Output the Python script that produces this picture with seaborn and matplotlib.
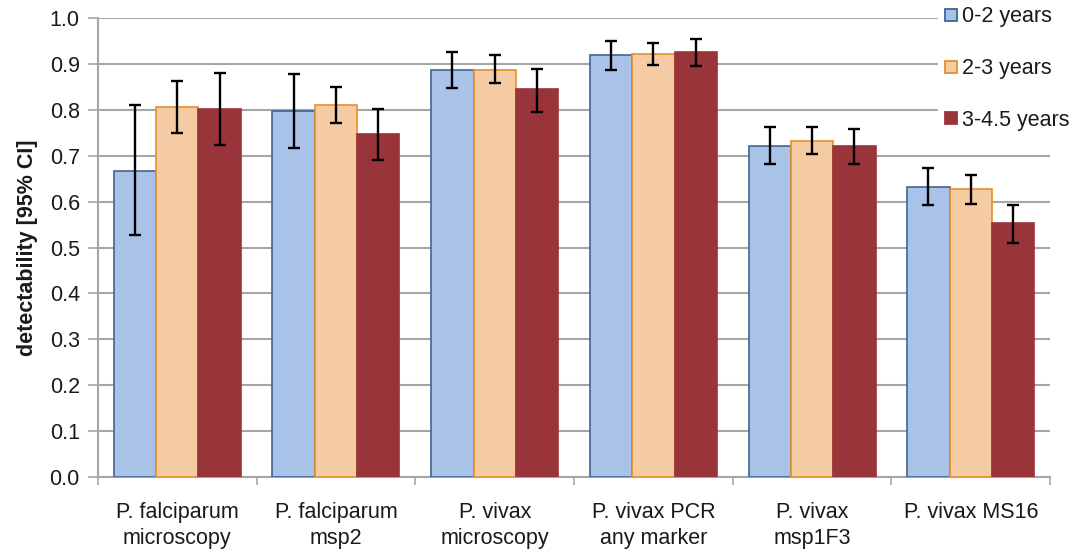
import matplotlib
matplotlib.use("Agg")
import matplotlib.pyplot as plt
import seaborn as sns
import pandas as pd
import numpy as np
from matplotlib.lines import Line2D

categories = ["P. falciparum\nmicroscopy", "P. falciparum\nmsp2", "P. vivax\nmicroscopy",
              "P. vivax PCR\nany marker", "P. vivax\nmsp1F3", "P. vivax MS16"]
groups = ["0-2 years", "2-3 years", "3-4.5 years"]

val_0_2 = [0.667, 0.797, 0.888, 0.919, 0.722, 0.633]
lo_0_2 = [0.527, 0.716, 0.847, 0.887, 0.682, 0.592]
hi_0_2 = [0.810, 0.878, 0.927, 0.950, 0.762, 0.674]

val_2_3 = [0.807, 0.810, 0.888, 0.923, 0.733, 0.627]
lo_2_3 = [0.750, 0.771, 0.858, 0.899, 0.705, 0.595]
hi_2_3 = [0.864, 0.849, 0.919, 0.946, 0.762, 0.658]

val_3_45 = [0.802, 0.747, 0.845, 0.926, 0.721, 0.553]
lo_3_45 = [0.723, 0.690, 0.796, 0.895, 0.683, 0.510]
hi_3_45 = [0.880, 0.802, 0.890, 0.954, 0.758, 0.593]

fills = ["#A9C3E8", "#F4CBA2", "#98343A"]
edges = ["#3F6496", "#E3912B", "#98343A"]

vals = [val_0_2, val_2_3, val_3_45]
los = [lo_0_2, lo_2_3, lo_3_45]
his = [hi_0_2, hi_2_3, hi_3_45]

rows = []
for g, v in zip(groups, vals):
    for c, x in zip(categories, v):
        rows.append({"cat": c, "grp": g, "val": x})
df = pd.DataFrame(rows)

sns.set_style("white")
plt.rcParams["font.family"] = ["Liberation Sans", "DejaVu Sans"]
FS = 15.5
TXT = "#1A1A1A"
GRID = "#A6A6A6"

fig = plt.figure(figsize=(10.76, 5.52), dpi=100)
ax = fig.add_axes([0.091, 0.136, 0.885, 0.831])

sns.barplot(data=df, x="cat", y="val", hue="grp", order=categories, hue_order=groups,
            palette=fills, saturation=1, width=0.8, ax=ax, legend=False, errorbar=None, zorder=3)

for gi in range(3):
    cont = ax.containers[gi]
    for ci, bar in enumerate(cont):
        bar.set_edgecolor(edges[gi])
        bar.set_linewidth(1.2)
        xc = bar.get_x() + bar.get_width() / 2
        v = vals[gi][ci]
        ax.errorbar(xc, v, yerr=[[v - los[gi][ci]], [his[gi][ci] - v]], fmt="none",
                    ecolor="black", elinewidth=1.7, capsize=4, capthick=1.7, zorder=4)

ax.set_ylim(0, 1.0)
ax.set_xlim(-0.5, 5.5)
ticks = np.arange(0, 1.01, 0.1)
ax.set_yticks(ticks)
ax.set_yticklabels([f"{t:.1f}" for t in ticks], fontsize=FS, color=TXT)
ax.yaxis.grid(True, color=GRID, linewidth=1.5, zorder=0)
ax.set_axisbelow(True)
ax.tick_params(axis="y", length=7, width=1.2, color=GRID, direction="out", left=True, pad=6)
ax.set_xticks(range(6))
ax.set_xticklabels(categories, fontsize=FS, color=TXT, linespacing=1.3)
ax.tick_params(axis="x", length=0, pad=18)
ax.set_xticks(np.arange(-0.5, 6, 1), minor=True)
ax.tick_params(axis="x", which="minor", length=6, width=1.2, color=GRID, direction="out", bottom=True)
for s in ["top", "right"]:
    ax.spines[s].set_visible(False)
for s in ["left", "bottom"]:
    ax.spines[s].set_color(GRID)
    ax.spines[s].set_linewidth(1.5)
ax.set_xlabel("")
ax.set_ylabel("detectability [95% CI]", fontsize=FS, fontweight="bold", labelpad=8, color=TXT)

handles = [Line2D([0], [0], marker="s", linestyle="none", markersize=8.5,
                  markerfacecolor=fills[i], markeredgecolor=edges[i], markeredgewidth=1.3)
           for i in range(3)]
leg = fig.legend(handles, groups, loc="upper right", bbox_to_anchor=(1.0, 1.0),
                 fontsize=FS, frameon=True, framealpha=1, edgecolor="white",
                 labelspacing=1.43, handlelength=0.6, handletextpad=0.2, borderpad=0.3,
                 borderaxespad=0.0)
for t in leg.get_texts():
    t.set_color(TXT)
leg.set_zorder(10)

fig.savefig("out.png", dpi=100)
